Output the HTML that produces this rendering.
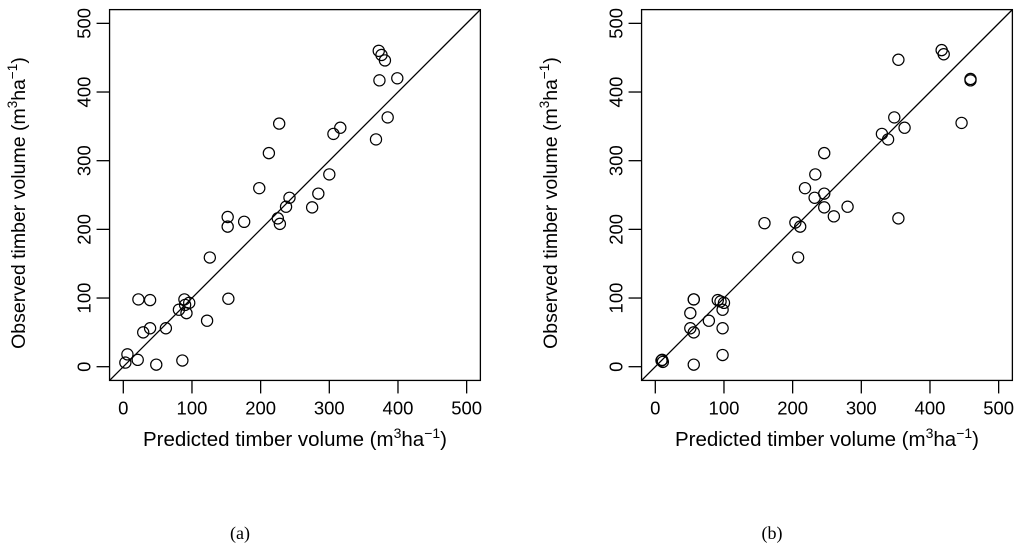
<!DOCTYPE html>
<html><head><meta charset="utf-8"><style>
body{margin:0;background:#fff;width:1024px;height:549px;overflow:hidden}
svg{display:block}
text{font-family:"Liberation Sans",sans-serif;fill:#000}
</style></head><body>
<svg id="chart" width="1024" height="549" viewBox="0 0 1024 549" xmlns="http://www.w3.org/2000/svg"></svg>
<script>
const ticks=[0,100,200,300,400,500];
const predA=[372,376,381,373,399,227,316,306,385,368,212,300,198,284,242,237,275,152,152,176,225,228,126,22,39,153,89,96,90,81,92,122,62,39,29,6,3,21,48,86];
const obsA=[460,454,446,417,420,354,348,339,363,331,311,280,260,252,246,233,232,218,204,211,216,208,159,98,97,99,98,93,90,83,78,67,56,56,50,18,6,10,3,9];
const predB=[417,420,354,459,459,446,348,363,330,339,246,233,218,246,232,246,280,260,354,159,204,211,208,56,56,91,95,100,98,51,78,51,56,98,98,56,10,11,9];
const obsB=[461,455,447,419,417,355,363,348,339,331,311,280,260,252,246,232,233,219,216,209,210,204,159,98,98,97,95,93,83,78,67,56,50,56,17,3,10,7,9];
const NS="http://www.w3.org/2000/svg";
const svg=document.getElementById('chart');
function mk(tag,attrs,parent){const e=document.createElementNS(NS,tag);for(const k in attrs)e.setAttribute(k,attrs[k]);(parent||svg).appendChild(e);return e;}
function panel(x0,pred,obs,cap,id){
  const g=mk('g',{});
  
  
  const sx=v=>x0+13.3+v*0.6867;
  const sy=v=>366.7-v*0.6867;
  const L=sx(-20),R=sx(520),T=sy(520),B=sy(-20);
  const box=mk('rect',{x:L,y:T,width:R-L,height:B-T,fill:'none',stroke:'#000','stroke-width':1.3},g);
  
  
  const ln=mk('line',{x1:L,y1:B,x2:R,y2:T,stroke:'#000','stroke-width':1.3},g);
  
  
  ticks.forEach(t=>{
    mk('line',{x1:sx(t),x2:sx(t),y1:B,y2:B+13,stroke:'#000','stroke-width':1.3},g);
    const xl=mk('text',{x:sx(t),y:B+34,'text-anchor':'middle','font-size':18.5},g);xl.textContent=t;
    
    
    mk('line',{x1:L,x2:L-13,y1:sy(t),y2:sy(t),stroke:'#000','stroke-width':1.3},g);
    const yl=mk('text',{x:0,y:0,'text-anchor':'middle','font-size':18.5,transform:`translate(${L-19},${sy(t)}) rotate(-90)`},g);yl.textContent=t;
    
    
  });
  pred.forEach((p,i)=>{
    const c=mk('circle',{cx:sx(p),cy:sy(obs[i]),r:5.6,fill:'none',stroke:'#000','stroke-width':1.2},g);
    
    
  });
  const xt=mk('text',{x:(L+R)/2,y:446,'text-anchor':'middle','font-size':20.5},g);
  xt.innerHTML='Predicted timber volume (m<tspan dy="-8" font-size="14">3</tspan><tspan dy="8">ha</tspan><tspan dy="-8" font-size="14">−1</tspan><tspan dy="8">)</tspan>';
  
  
  const yt=mk('text',{x:0,y:0,'text-anchor':'middle','font-size':19.5,transform:`translate(${x0-85},${(T+B)/2+8}) rotate(-90)`},g);
  yt.innerHTML='Observed timber volume (m<tspan dy="-8" font-size="13.5">3</tspan><tspan dy="8">ha</tspan><tspan dy="-8" font-size="13.5">−1</tspan><tspan dy="8">)</tspan>';
  
  
  const ct=mk('text',{x:(L+R)/2-55,y:539,'text-anchor':'middle','font-size':18,style:'font-family:"Liberation Serif",serif'},g);
  ct.textContent=cap;
  
  
}
panel(110,predA,obsA,'(a)','a');
panel(642,predB,obsB,'(b)','b');
</script>
</body></html>
